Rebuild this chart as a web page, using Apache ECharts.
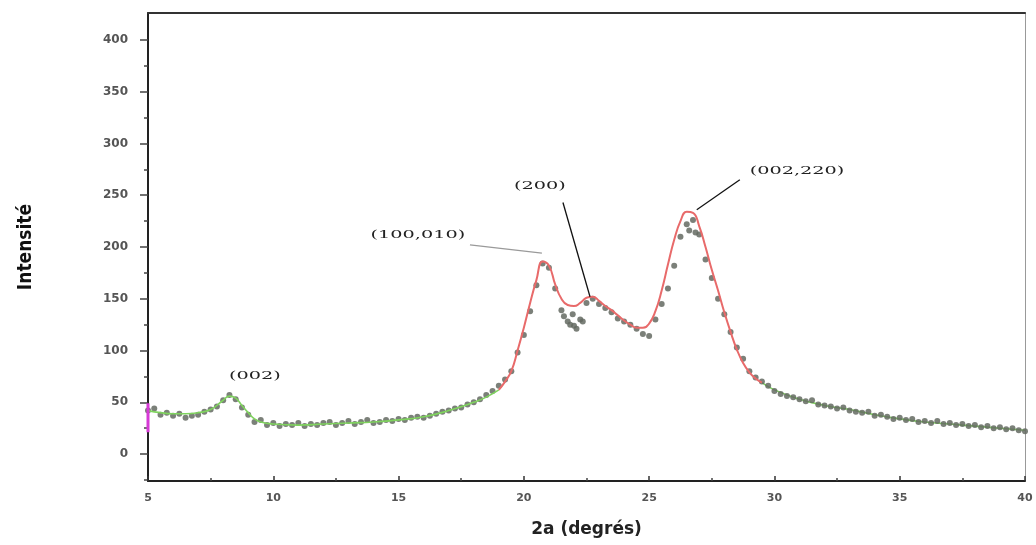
<!DOCTYPE html>
<html><head><meta charset="utf-8">
<script src="https://cdn.jsdelivr.net/npm/echarts@6/dist/echarts.min.js"></script>
<style>html,body{margin:0;padding:0;background:#fff}#c{width:1036px;height:545px}</style>
</head><body><div id="c"></div>
<script>
// measured points: 2θ (degrees) and intensity
const pointX = [5,5.25,5.5,5.75,6,6.25,6.5,6.75,7,7.25,7.5,7.75,8,8.25,8.5,8.75,9,9.25,9.5,9.75,
10,10.25,10.5,10.75,11,11.25,11.5,11.75,12,12.25,12.5,12.75,13,13.25,13.5,13.75,14,14.25,14.5,14.75,
15,15.25,15.5,15.75,16,16.25,16.5,16.75,17,17.25,17.5,17.75,18,18.25,18.5,18.75,19,19.25,19.5,19.75,
20,20.25,20.5,20.75,21,21.25,21.5,21.75,22,22.25,22.5,22.75,23,23.25,23.5,23.75,24,24.25,24.5,24.75,
25,25.25,25.5,25.75,26,26.25,26.5,26.75,27,27.25,27.5,27.75,28,28.25,28.5,28.75,29,29.25,29.5,29.75,
30,30.25,30.5,30.75,31,31.25,31.5,31.75,32,32.25,32.5,32.75,33,33.25,33.5,33.75,34,34.25,34.5,34.75,
35,35.25,35.5,35.75,36,36.25,36.5,36.75,37,37.25,37.5,37.75,38,38.25,38.5,38.75,39,39.25,39.5,39.75,40,
21.6,21.85,22.1,22.35,21.95,26.6,26.85];
const pointY = [42,44,38,40,37,39,35,37,38,41,43,46,52,57,53,45,38,31,33,28,
30,27,29,28,30,27,29,28,30,31,28,30,32,29,31,33,30,31,33,32,
34,33,35,36,35,37,39,41,42,44,45,48,50,53,57,61,66,72,80,98,
115,138,163,184,180,160,139,128,124,130,146,150,145,141,137,131,128,125,121,116,
114,130,145,160,182,210,222,226,212,188,170,150,135,118,103,92,80,74,70,66,
61,58,56,55,53,51,52,48,47,46,44,45,42,41,40,41,37,38,36,34,
35,33,34,31,32,30,32,29,30,28,29,27,28,26,27,25,26,24,25,23,22,
133,125,121,128,135,216,214];

// fitted curve (red)
const fitX = [19,19.25,19.5,19.75,20,20.25,20.5,20.75,21,21.25,21.5,21.75,22,22.25,22.5,22.75,23,23.25,23.5,23.75,
24,24.25,24.5,24.75,25,25.25,25.5,25.75,26,26.25,26.5,26.75,27,27.25,27.5,27.75,28,28.25,28.5,28.75,29,29.25,29.5];
const fitY = [62,70,80,100,122,146,168,186,182,164,150,144,143,146,151,152,148,143,139,134,
129,125,122,122,126,138,158,183,207,225,234,233,220,200,178,158,137,118,101,88,79,73,69];

// baseline fit (green)
const baseX1 = [5,5.5,6,6.5,7,7.5,8,8.25,8.5,8.75,9,9.25,9.5,10,11,12,13,14,15,16,17,18,18.5,19];
const baseY1 = [42,40,39,39,40,43,52,56,54,47,40,34,31,29,28,29,30,31,33,36,42,50,55,62];
const baseX2 = [29.5,30,31,32,33,34,35,36,37,38,39,40];
const baseY2 = [69,62,53,47,43,38,34,31,29,27,25,23];

// magenta edge mark
const edgeX = [5,5];
const edgeY = [49,21];

// peak annotations
const peakLabels = ['(002)','(100,010)','(200)','(002,220)'];
const labelX = [9.27,15.77,20.64,30.9];
const labelY = [75,211,259,273];
const leaderFromX = [null,17.85,21.56,28.62];
const leaderFromY = [null,202,243,265];
const leaderToX = [null,20.72,22.64,26.9];
const leaderToY = [null,194,152,236];
const leaderColor = [null,'#9a9a9a','#111','#111'];

const xTicks = [5,10,15,20,25,30,35,40];
const yTicks = [0,50,100,150,200,250,300,350,400];
const yMinorTicks = [-25,25,75,125,175,225,275,325,375];

const zip = (a,b)=>a.map((v,i)=>[v,b[i]]);
const chart = echarts.init(document.getElementById('c'));

const series = [
  {type:'line', data: zip(baseX1,baseY1), smooth:true, symbol:'none', z:3,
   lineStyle:{color:'#7fd35e', width:1.6}},
  {type:'line', data: zip(baseX2,baseY2), smooth:true, symbol:'none', z:1,
   lineStyle:{color:'#7fd35e', width:1.6}},
  {type:'scatter', data: zip(pointX,pointY), symbol:'circle', symbolSize:6, z:2,
   itemStyle:{color:'#646a61', opacity:0.85}},
  {type:'line', data: zip(fitX,fitY), smooth:true, symbol:'none', z:4,
   lineStyle:{color:'#e86a6a', width:2}},
  {type:'line', data: zip(edgeX,edgeY), symbol:'none', z:5,
   lineStyle:{color:'#d63ad6', width:3}}
];
for (let i=0;i<peakLabels.length;i++){
  if (leaderFromX[i]===null) continue;
  series.push({type:'line', data:[[leaderFromX[i],leaderFromY[i]],[leaderToX[i],leaderToY[i]]],
    symbol:'none', z:6, lineStyle:{color:leaderColor[i], width:1.3}});
}

chart.setOption({
  animation:false,
  grid:{left:148, right:11, top:13, bottom:64},
  xAxis:[{
    type:'value', min:5, max:40, interval:5, position:'bottom',
    name:'2a (degrés)', nameLocation:'middle', nameGap:40,
    nameTextStyle:{fontFamily:'DejaVu Sans', fontWeight:'bold', fontSize:17, color:'#222'},
    axisLine:{show:true, onZero:false, lineStyle:{color:'#222', width:2}},
    axisTick:{show:true, inside:true, length:5, lineStyle:{color:'#333', width:1.5}},
    minorTick:{show:true, splitNumber:2, length:3, lineStyle:{color:'#444', width:1.5}},
    axisLabel:{margin:12, fontFamily:'DejaVu Sans', fontWeight:'bold', fontSize:11, color:'#555',
      customValues: xTicks},
    splitLine:{show:false}
  },{
    type:'value', min:5, max:40, position:'top',
    axisLine:{show:true, onZero:false, lineStyle:{color:'#333', width:2}},
    axisTick:{show:false}, axisLabel:{show:false}, splitLine:{show:false}
  }],
  yAxis:[{
    type:'value', min:-26, max:426, position:'left',
    name:'Intensité', nameLocation:'middle', nameGap:112, nameRotate:90,
    nameTextStyle:{fontFamily:'DejaVu Sans Condensed', fontWeight:'bold', fontSize:19, color:'#111'},
    axisLine:{show:true, onZero:false, lineStyle:{color:'#222', width:2}},
    axisTick:{show:true, length:8, customValues: yTicks, lineStyle:{color:'#444', width:1.5}},
    axisLabel:{margin:20, fontFamily:'DejaVu Sans', fontWeight:'bold', fontSize:12, color:'#555',
      customValues: yTicks},
    splitLine:{show:false}
  },{
    type:'value', min:-26, max:426, position:'left', offset:0,
    axisLine:{show:false},
    axisTick:{show:true, length:4, customValues: yMinorTicks, lineStyle:{color:'#444', width:1.5}},
    axisLabel:{show:false}, splitLine:{show:false}
  },{
    type:'value', min:-26, max:426, position:'right',
    axisLine:{show:true, onZero:false, lineStyle:{color:'#999', width:1}},
    axisTick:{show:false}, axisLabel:{show:false}, splitLine:{show:false}
  }],
  series: series
});

// peak labels as wide-spaced serif text, placed through the axis scales
const graphics = peakLabels.map((t,i)=>{
  const p = chart.convertToPixel({xAxisIndex:0, yAxisIndex:0},[labelX[i],labelY[i]]);
  return {type:'text', x:p[0], y:p[1], scaleX:1.75, z:10,
    style:{text:t, fontFamily:'DejaVu Serif', fontSize:11, fill:'#222',
      align:'center', verticalAlign:'middle'}};
});
chart.setOption({graphic: graphics});
</script>
</body></html>
